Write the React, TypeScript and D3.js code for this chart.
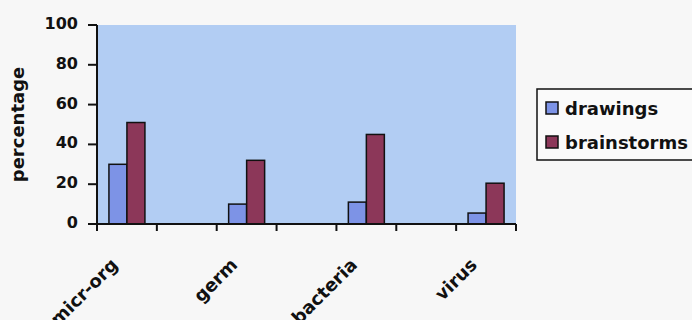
import React from "react";
import * as d3 from "d3";

const categories = ["micr-org", "", "germ", "", "bacteria", "", "virus"];
const drawings: (number | null)[] = [30, null, 10, null, 11, null, 5.5];
const brainstorms: (number | null)[] = [51, null, 32, null, 45, null, 20.5];
const seriesNames = ["drawings", "brainstorms"];
const seriesColors = ["#7d93e6", "#8c3759"];
const yTicks = [0, 20, 40, 60, 80, 100];
const yTitle = "percentage";

const W = 692;
const H = 320;
const FONT = "'DejaVu Sans', sans-serif";

export default function App() {
  const left = 97, right = 516, top = 25, bottom = 224;
  const x = d3.scaleBand<string>().domain(categories.map((_, i) => String(i))).range([left, right]).padding(0);
  const inner = d3.scaleBand<string>().domain(seriesNames).range([0, x.step()]).paddingInner(0).paddingOuter(0.663);
  const y = d3.scaleLinear().domain([0, 100]).range([bottom, top]);
  const series = [drawings, brainstorms];
  const boundaries = d3.range(categories.length + 1).map((i) => left + i * x.step());

  return (
    <svg width={W} height={H} style={{ position: "fixed", left: 0, top: 0, background: "#f7f7f7" }}>
      <rect x={left} y={top} width={right - left} height={bottom - top} fill="#b2cdf3" />
      {series.map((vals, si) =>
        vals.map((v, i) =>
          v == null ? null : (
            <rect
              key={`${si}-${i}`}
              x={(x(String(i)) as number) + (inner(seriesNames[si]) as number)}
              y={y(v)}
              width={inner.bandwidth()}
              height={y(0) - y(v)}
              fill={seriesColors[si]}
              stroke="#111"
              strokeWidth={1.5}
            />
          )
        )
      )}
      {/* axes */}
      <line x1={left} x2={left} y1={top} y2={bottom} stroke="#111" strokeWidth={2} />
      <line x1={left} x2={right} y1={bottom} y2={bottom} stroke="#111" strokeWidth={2} />
      {yTicks.map((t) => (
        <g key={t}>
          <line x1={left - 9} x2={left} y1={y(t)} y2={y(t)} stroke="#111" strokeWidth={2} />
          <text x={left - 19} y={y(t)} dy="0.25em" textAnchor="end" fontFamily={FONT} fontWeight="bold" fontSize={16} fill="#111">
            {t}
          </text>
        </g>
      ))}
      {boundaries.map((b, i) => (
        <line key={i} x1={b} x2={b} y1={bottom} y2={bottom + 7} stroke="#111" strokeWidth={2} />
      ))}
      {categories.map((c, i) =>
        c ? (
          <text
            key={i}
            transform={`translate(${(x(String(i)) as number) + x.bandwidth() / 2 - 8},${bottom + 42}) rotate(-45)`}
            textAnchor="end"
            fontFamily={FONT}
            fontWeight="bold"
            fontSize={18}
            fill="#111"
          >
            {c}
          </text>
        ) : null
      )}
      <text
        transform={`translate(24,${(top + bottom) / 2}) rotate(-90)`}
        textAnchor="middle"
        fontFamily={FONT}
        fontWeight="bold"
        fontSize={18}
        fill="#111"
      >
        {yTitle}
      </text>
      {/* legend */}
      <rect x={537} y={89} width={170} height={71} fill="#fafafa" stroke="#111" strokeWidth={1.5} />
      {seriesNames.map((s, i) => (
        <g key={s}>
          <rect x={546} y={102 + i * 34} width={12} height={12} fill={seriesColors[i]} stroke="#111" strokeWidth={1.5} />
          <text x={565} y={115 + i * 34} fontFamily={FONT} fontWeight="bold" fontSize={18} fill="#111">
            {s}
          </text>
        </g>
      ))}
    </svg>
  );
}
